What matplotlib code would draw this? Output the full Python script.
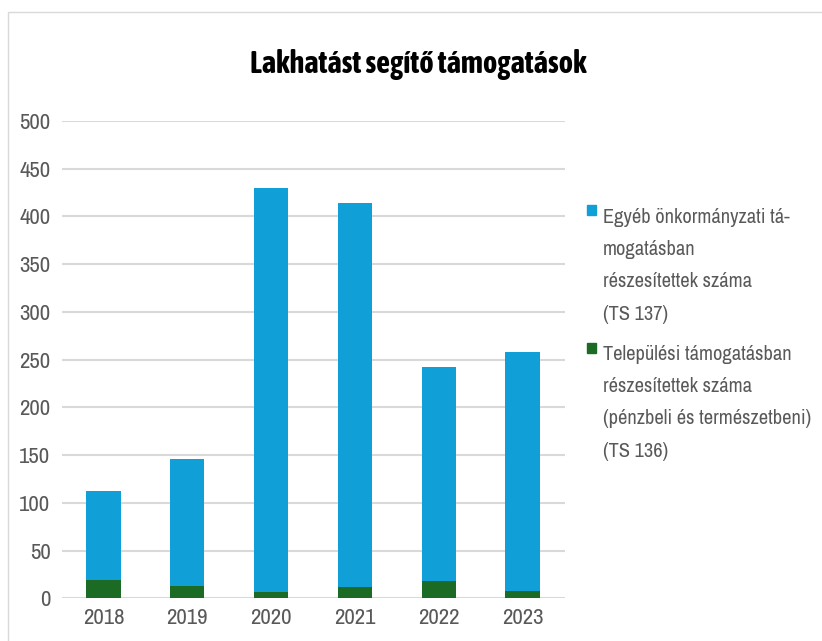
import os
import matplotlib
matplotlib.use("Agg")
import matplotlib.pyplot as plt
from matplotlib.patches import Rectangle
from matplotlib import font_manager as fm

# look for an installed condensed/narrow sans font
def find_cond(bold):
    best = None
    for f in fm.fontManager.ttflist:
        fn = os.path.basename(f.fname).lower()
        if ('condensed' in fn or 'narrow' in fn) and 'oblique' not in fn and 'italic' not in fn and 'mono' not in fn and 'serif' not in fn:
            isbold = ('bold' in fn)
            if isbold == bold:
                best = f.fname
                if 'dejavu' not in fn:
                    return f.fname
    return best

reg = find_cond(False)
bld = find_cond(True)

years = ["2018", "2019", "2020", "2021", "2022", "2023"]
telepulesi = [19, 13, 7, 12, 18, 8]
egyeb = [93, 133, 423, 402, 224, 250]

blue = "#119fd7"
green = "#1c6b24"
txt = "#595959"

if reg:
    fp = fm.FontProperties(fname=reg)
    tick_size, leg_size = 16.5, 14.7
else:
    fp = fm.FontProperties(family='Roboto')
    tick_size, leg_size = 13.5, 12
if bld:
    fpb = fm.FontProperties(fname=bld)
    title_size = 22
else:
    fpb = fm.FontProperties(family='Roboto', weight='bold')
    title_size = 18

W, H = 822, 641
fig = plt.figure(figsize=(W / 100, H / 100), dpi=100)
ax = fig.add_axes([61.5 / W, (H - 598.4) / H, (564.5 - 61.5) / W, (598.4 - 121) / H])

x = list(range(len(years)))
ax.bar(x, telepulesi, width=0.41, color=green, zorder=3)
ax.bar(x, egyeb, width=0.41, bottom=telepulesi, color=blue, zorder=3)

ax.set_xlim(-0.5, len(years) - 0.5)
ax.set_ylim(0, 500)
ax.set_yticks(range(0, 501, 50))
ax.set_xticks(x)
ax.set_xticklabels(years)
ax.tick_params(axis='both', length=0, colors=txt)
ax.tick_params(axis='y', pad=8)
ax.tick_params(axis='x', pad=7)
for lab in ax.get_xticklabels() + ax.get_yticklabels():
    lab.set_fontproperties(fp)
    lab.set_fontsize(tick_size)
ax.grid(axis='y', color="#d9d9d9", linewidth=1.5, zorder=0)
for s in ax.spines.values():
    s.set_visible(False)

fig.text(418 / W, 1 - 64 / H, "Lakhatást segítő támogatások", ha='center', va='center',
         fontproperties=fpb, fontsize=title_size, color='black')

# legend
fig.patches.append(Rectangle((587 / W, 1 - 215 / H), 9 / W, 10 / H, transform=fig.transFigure,
                             color=blue, figure=fig))
fig.text(603 / W, 1 - 208 / H, "Egyéb önkormányzati tá-\nmogatásban\nrészesítettek száma\n(TS 137)",
         ha='left', va='top', fontproperties=fp, fontsize=leg_size, color=txt, linespacing=1.88)
fig.patches.append(Rectangle((587 / W, 1 - 353 / H), 9 / W, 10 / H, transform=fig.transFigure,
                             color=green, figure=fig))
fig.text(603 / W, 1 - 345 / H, "Települési támogatásban\nrészesítettek száma\n(pénzbeli és természetbeni)\n(TS 136)",
         ha='left', va='top', fontproperties=fp, fontsize=leg_size, color=txt, linespacing=1.88)

# outer border
fig.patches.append(Rectangle((7.5 / W, -0.01), 1.0, 1 - 12 / H + 0.01, transform=fig.transFigure,
                             fill=False, edgecolor="#d9d9d9", linewidth=1, figure=fig))

fig.savefig("out.png", dpi=100, facecolor='white')
